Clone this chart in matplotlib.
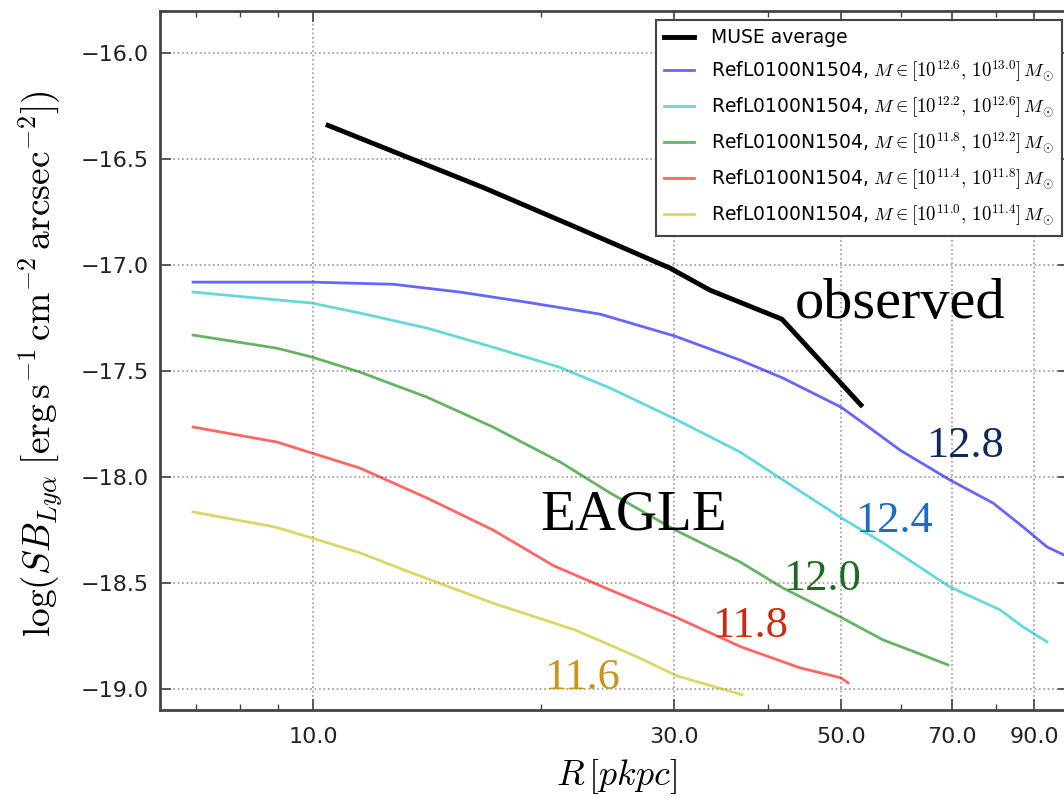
import matplotlib
matplotlib.use('Agg')
import matplotlib.pyplot as plt
from matplotlib.ticker import FixedLocator, FuncFormatter, NullFormatter
import numpy as np

plt.rcParams['font.family'] = 'DejaVu Sans'
plt.rcParams['mathtext.fontset'] = 'cm'

# MUSE average profile
muse_r = [10.47, 16.89, 22.41, 29.67, 33.51, 41.72, 53.06]
muse_sb = [-16.34, -16.637, -16.825, -17.014, -17.118, -17.255, -17.66]

# EAGLE RefL0100N1504 profiles, one per halo mass bin
r_128 = [6.94, 9.97, 12.76, 15.65, 19.19, 23.97, 30.12, 36.72, 41.84, 49.93,
         54.55, 59.77, 69.58, 79.35, 86.96, 93.52, 98.49]
sb_128 = [-17.08, -17.08, -17.09, -17.127, -17.175, -17.231, -17.335, -17.448,
          -17.533, -17.67, -17.769, -17.873, -18.014, -18.123, -18.236, -18.33, -18.368]

r_124 = [6.94, 9.97, 11.54, 14.15, 17.30, 21.16, 24.71, 30.12, 36.72, 41.84,
         49.78, 56.75, 69.58, 81.05, 86.96, 93.52]
sb_124 = [-17.127, -17.179, -17.226, -17.297, -17.387, -17.481, -17.58, -17.726,
          -17.882, -18.014, -18.189, -18.311, -18.519, -18.627, -18.708, -18.778]

r_120 = [6.94, 8.96, 9.97, 11.54, 14.15, 17.30, 21.22, 24.71, 30.12, 36.72,
         41.84, 49.78, 56.75, 62.93, 69.16]
sb_120 = [-17.33, -17.392, -17.434, -17.505, -17.623, -17.764, -17.929, -18.075,
          -18.25, -18.401, -18.524, -18.66, -18.769, -18.83, -18.887]

r_118 = [6.94, 8.96, 9.97, 11.54, 14.15, 17.30, 20.84, 24.71, 30.12, 36.83,
         44.08, 49.93, 51.01]
sb_118 = [-17.764, -17.835, -17.887, -17.958, -18.099, -18.25, -18.42, -18.533,
          -18.66, -18.802, -18.901, -18.948, -18.972]

r_116 = [6.94, 8.91, 9.97, 11.54, 13.40, 17.25, 22.21, 26.83, 30.30, 36.95]
sb_116 = [-18.165, -18.236, -18.288, -18.358, -18.448, -18.594, -18.722, -18.849,
          -18.939, -19.028]

mass_lo = ['12.6', '12.2', '11.8', '11.4', '11.0']
mass_hi = ['13.0', '12.6', '12.2', '11.8', '11.4']
line_colors = ['b', 'c', 'g', 'r', 'y']

bin_names = ['12.8', '12.4', '12.0', '11.8', '11.6']
name_colors = ['#0e2a5a', '#1a6cc4', '#1b6b22', '#cc2a10', '#c8961c']
name_r = [64.8, 52.1, 41.9, 33.7, 20.2]
name_sb = [-17.904, -18.258, -18.533, -18.756, -19.0]

profiles = [(r_128, sb_128), (r_124, sb_124), (r_120, sb_120),
            (r_118, sb_118), (r_116, sb_116)]

fig = plt.figure(figsize=(10.64, 7.98), dpi=100)
ax = fig.add_axes([160 / 1064, 1 - 710 / 798, 909 / 1064, 699 / 798])

ax.plot(muse_r, muse_sb, color='k', lw=3.5, label='MUSE average')
for (r, sb), c, lo, hi in zip(profiles, line_colors, mass_lo, mass_hi):
    lab = r'RefL0100N1504, $M\in[10^{%s},\,10^{%s}]\,M_{\odot}$' % (lo, hi)
    ax.plot(r, sb, color=c, alpha=0.6, lw=2, label=lab)

for name, c, x, y in zip(bin_names, name_colors, name_r, name_sb):
    ax.text(x, y, name, color=c, fontsize=32, family='Liberation Serif')
ax.text(43.4, -17.25, 'observed', color='k', fontsize=42, family='Liberation Serif')
ax.text(20.0, -18.25, 'EAGLE', color='k', fontsize=41, family='Liberation Serif')

ax.set_xscale('log')
ax.set_xlim(6.275, 100)
ax.set_ylim(-19.1, -15.8)

fmt = FuncFormatter(lambda v, pos: ('%.1f' % v).replace('-', '\u2212'))
ax.xaxis.set_major_locator(FixedLocator([10, 30, 50, 70, 90]))
ax.xaxis.set_major_formatter(fmt)
ax.xaxis.set_minor_locator(FixedLocator([7, 8, 9, 20, 40, 60, 80]))
ax.xaxis.set_minor_formatter(NullFormatter())
ax.set_yticks(np.arange(-19.0, -15.9, 0.5))
ax.yaxis.set_major_formatter(fmt)

ax.tick_params(which='both', direction='in', top=True, right=True,
               color='#444444', labelcolor='#222222', labelsize=16)
ax.tick_params(which='major', length=8, width=1.2)
ax.tick_params(which='minor', length=4, width=1)
ax.tick_params(axis='x', pad=12)
ax.tick_params(axis='y', pad=8)
ax.grid(True, which='major', ls=':', color='#999999', lw=1.2)
for sp in ax.spines.values():
    sp.set_color('#444444')
    sp.set_linewidth(2)

ax.set_xlabel(r'$R\,[pkpc]$', fontsize=26)
ax.xaxis.set_label_coords(0.502, -0.067)
ax.set_ylabel(r'$\log(SB_{Ly\alpha}\;[\mathrm{erg\,s^{-1}\,cm^{-2}\,arcsec^{-2}}])$',
              fontsize=27)
ax.yaxis.set_label_coords(-0.1045, 0.495)

leg = ax.legend(loc='upper right', bbox_to_anchor=(1062 / 1064, 1 - 20 / 798),
                bbox_transform=fig.transFigure, borderaxespad=0, fontsize=13.5,
                handlelength=1.6, handletextpad=0.9, labelspacing=0.55,
                borderpad=0.45, fancybox=False, framealpha=1)
leg.get_frame().set_edgecolor('#444444')
leg.get_frame().set_linewidth(1.5)

fig.savefig('out.png', dpi=100)
